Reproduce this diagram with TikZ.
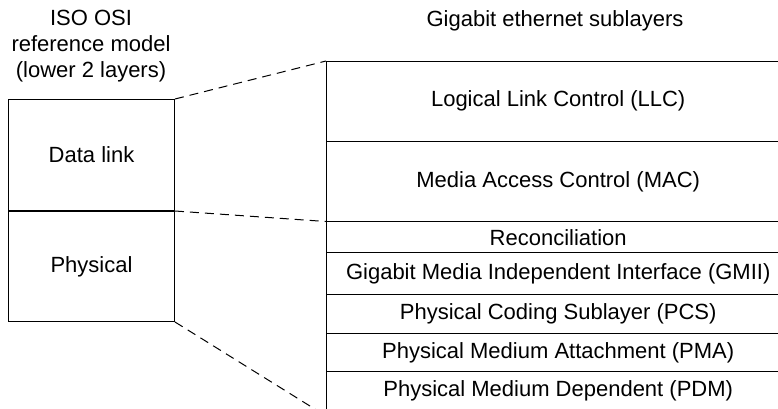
\documentclass[tikz,border=0pt]{standalone}
\usepackage{fontspec}
\setmainfont{Liberation Sans}
\begin{document}
\begin{tikzpicture}[x=1pt,y=-1pt,
  every node/.style={font=\fontsize{22}{26}\selectfont, inner sep=0pt},
  osibox/.style={draw, line width=1pt, minimum width=166pt, anchor=north west},
  sublayer/.style={minimum width=464pt, anchor=north west},
  rule/.style={line width=1pt},
  zoomline/.style={line width=1pt, dash pattern=on 9pt off 6pt}]
\useasboundingbox (0,0) rectangle (778,408);
\clip (0,0) rectangle (778,408);
% headings
\node[align=center] (osihead) at (91,46) {ISO OSI\\reference model\\(lower 2 layers)};
\node (gehead) at (555,21) {Gigabit ethernet sublayers};
% left OSI box
\node[osibox, minimum height=111pt] (dl) at (8,99) {Data link};
\node[osibox, minimum height=110pt] (ph) at (dl.south west) {Physical};
% right sublayers
\node[sublayer, minimum height=79.7pt] (llc) at (326,61) {Logical Link Control (LLC)};
\node[sublayer, minimum height=80pt] (mac) at (llc.south west) {Media Access Control (MAC)};
\node[sublayer, minimum height=31pt] (rec) at (mac.south west) {Reconciliation};
\node[sublayer, minimum height=41.6pt] (gmii) at (rec.south west) {Gigabit Media Independent Interface (GMII)};
\node[sublayer, minimum height=38.4pt] (pcs) at (gmii.south west) {Physical Coding Sublayer (PCS)};
\node[sublayer, minimum height=37.3pt] (pma) at (pcs.south west) {Physical Medium Attachment (PMA)};
\node[sublayer, minimum height=38pt] (pdm) at (pma.south west) {Physical Medium Dependent (PDM)};
\coordinate (stackbot) at (326,416);
% stack outline and separators
\draw[rule] (llc.north east) -- (llc.north west) -- (stackbot);
\foreach \n in {llc,mac,rec,gmii,pcs,pma}
  \draw[rule] (\n.south west) -- (\n.south east);
% zoom lines
\draw[zoomline] (dl.north east) -- (llc.north west);
\draw[zoomline] (dl.south east) -- (mac.south west);
\draw[zoomline] (ph.south east) -- (stackbot);
\end{tikzpicture}
\end{document}
